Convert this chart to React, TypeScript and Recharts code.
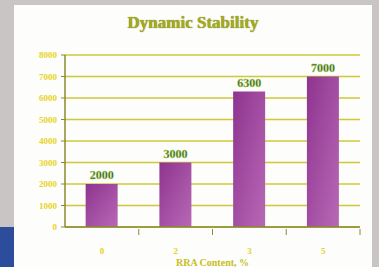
import { BarChart, Bar, XAxis, YAxis, CartesianGrid, LabelList } from 'recharts';

const categories = ['0', '2', '3', '5'];
const stability = [2000, 3000, 6300, 7000];
const yTicks = [0, 1000, 2000, 3000, 4000, 5000, 6000, 7000, 8000];

const data = categories.map((c, i) => ({ name: c, value: stability[i] }));

const serif = '"Liberation Serif", "DejaVu Serif", serif';

function XTick(props: any) {
  const { x, y, payload } = props;
  const half = payload && payload.offset ? payload.offset : 37;
  return (
    <g>
      <line x1={x + half} x2={x + half} y1={y - 6} y2={y} stroke="#8a8a30" strokeWidth={1} />
      <text
        x={x}
        y={y + 19}
        textAnchor="middle"
        fontFamily={serif}
        fontWeight="bold"
        fontSize={9}
        fill="#e6d21c"
      >
        {payload.value}
      </text>
    </g>
  );
}

export default function App() {
  return (
    <div
      style={{
        position: 'fixed',
        left: 0,
        top: 0,
        width: 379,
        height: 267,
        background: '#c9c5c4',
        overflow: 'hidden',
      }}
    >
      <div style={{ position: 'absolute', left: 0, top: 227, width: 14, height: 40, background: '#2c4c9c' }} />
      <div style={{ position: 'absolute', left: 14, top: 5, width: 358, height: 262, background: '#fdfdfb' }} />
      <div
        style={{
          position: 'absolute',
          left: 0,
          top: 13,
          width: 386,
          textAlign: 'center',
          fontFamily: serif,
          fontWeight: 'bold',
          fontSize: 17,
          color: '#a4aa20',
          textShadow: '0 0 1px #6e7410',
        }}
      >
        Dynamic Stability
      </div>
      <div style={{ position: 'absolute', left: 0, top: 0 }}>
        <BarChart width={379} height={267} data={data} margin={{ top: 55, right: 19, left: 15, bottom: 0 }} barCategoryGap="28%">
          <defs>
            <linearGradient id="barFill" x1="0" y1="0" x2="1" y2="1">
              <stop offset="0%" stopColor="#8e348f" />
              <stop offset="100%" stopColor="#b868b6" />
            </linearGradient>
          </defs>
          <CartesianGrid vertical={false} stroke="#cfc838" strokeWidth={1.5} />
          <XAxis
            dataKey="name"
            height={40}
            axisLine={{ stroke: '#8a8a30', strokeWidth: 1.5 }}
            tickLine={false}
            tick={<XTick />}
            interval={0}
            label={{
              value: 'RRA Content, %',
              position: 'insideBottom',
              offset: 1,
              fill: '#c8be1c',
              fontFamily: serif,
              fontWeight: 'bold',
              fontSize: 10,
            }}
          />
          <YAxis
            width={50}
            domain={[0, 8000]}
            ticks={yTicks}
            interval={0}
            axisLine={{ stroke: '#8a8a30', strokeWidth: 1.5 }}
            tickLine={{ stroke: '#8a8a30' }}
            tickSize={4}
            tickMargin={4}
            tick={{ fill: '#e8d41c', fontFamily: serif, fontWeight: 'bold', fontSize: 9 }}
          />
          <Bar dataKey="value" fill="url(#barFill)" isAnimationActive={false}>
            <LabelList
              dataKey="value"
              position="top"
              offset={5}
              fill="#2f6a1c"
              stroke="#b8d060"
              strokeWidth={0.4}
              fontFamily={serif}
              fontWeight="bold"
              fontSize={12}
            />
          </Bar>
        </BarChart>
      </div>
    </div>
  );
}
